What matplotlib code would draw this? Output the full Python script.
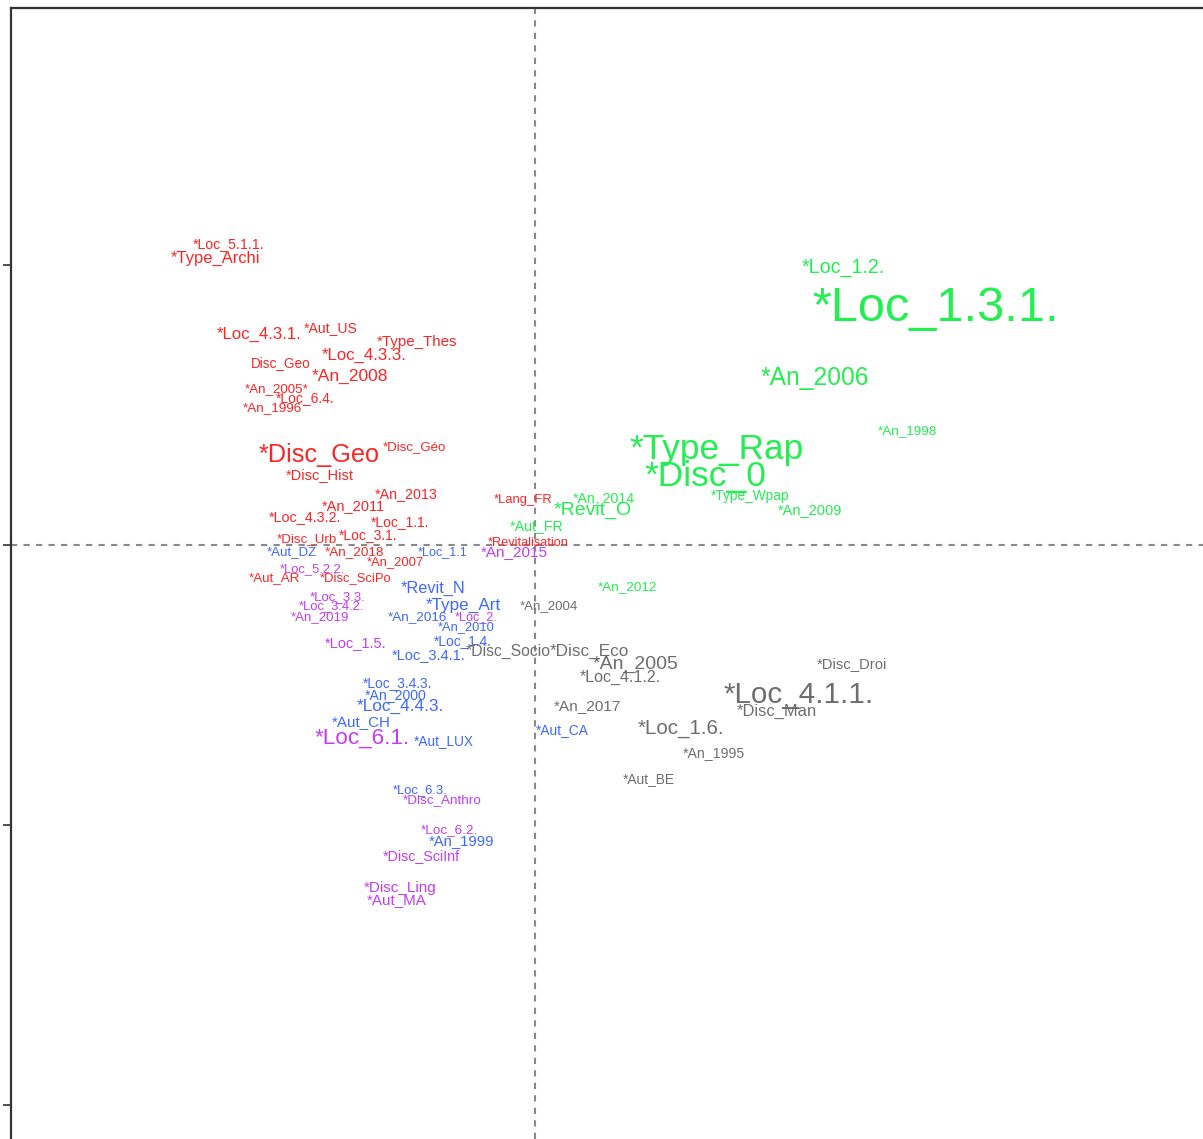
import matplotlib
matplotlib.use("Agg")
import matplotlib.pyplot as plt

plt.rcParams["font.family"] = ["Liberation Sans", "DejaVu Sans"]

# cluster 1 (red)
red_labels = ["*Loc_5.1.1.", "*Type_Archi", "*Loc_4.3.1.", "*Aut_US", "*Type_Thes", "*Loc_4.3.3.",
              "Disc_Geo", "*An_2008", "*An_2005*", "*Loc_6.4.", "*An_1996", "*Disc_Geo",
              "*Disc_Géo", "*Disc_Hist", "*An_2013", "*An_2011", "*Loc_4.3.2.", "*Loc_1.1.",
              "*Loc_3.1.", "*Disc_Urb", "*An_2018", "*An_2007", "*Aut_AR", "*Disc_SciPo",
              "*Lang_FR", "*Revitalisation"]
red_x = [-1.093, -1.139, -0.986, -0.729, -0.421, -0.611, -0.907, -0.661, -0.921, -0.821, -0.936, -0.771,
         -0.429, -0.768, -0.461, -0.650, -0.821, -0.482, -0.596, -0.814, -0.643, -0.500, -0.929, -0.639,
         -0.043, -0.025]
red_y = [1.079, 1.029, 0.757, 0.782, 0.729, 0.682, 0.654, 0.607, 0.564, 0.532, 0.496, 0.329,
         0.354, 0.257, 0.186, 0.146, 0.104, 0.086, 0.043, 0.025, -0.018, -0.054, -0.111, -0.111,
         0.168, 0.014]
red_size = [10.2, 11.9, 12.1, 10.1, 10.9, 12.1, 9.8, 12.5, 9.6, 10.0, 9.7, 18.2,
            9.5, 10.5, 10.3, 10.5, 10.4, 10.0, 10.0, 9.6, 9.7, 9.4, 9.6, 9.4,
            9.4, 9.2]

# cluster 2 (green)
green_labels = ["*Loc_1.2.", "*Loc_1.3.1.", "*An_2006", "*An_1998", "*Type_Rap", "*Disc_0",
                "*Type_Wpap", "*An_2009", "*An_2014", "*Revit_O", "*Aut_FR", "*An_2012"]
green_x = [1.100, 1.432, 1.000, 1.332, 0.650, 0.607, 0.768, 0.982, 0.246, 0.207, 0.007, 0.329]
green_y = [1.000, 0.864, 0.604, 0.411, 0.354, 0.257, 0.182, 0.132, 0.175, 0.132, 0.075, -0.143]
green_size = [14.2, 35.0, 17.7, 9.7, 25.3, 25.5, 9.8, 10.5, 10.2, 14.0, 10.3, 9.7]

# cluster 3 (blue)
blue_labels = ["*Aut_DZ", "*Loc_1.1", "*Revit_N", "*Type_Art", "*An_2016", "*An_2010", "*Loc_1.4.",
               "*Loc_3.4.1.", "*Loc_3.4.3.", "*An_2000", "*Loc_4.4.3.", "*Aut_CH", "*Aut_LUX",
               "*Aut_CA", "*Loc_6.3.", "*An_1999"]
blue_x = [-0.868, -0.329, -0.364, -0.254, -0.418, -0.246, -0.257, -0.379, -0.489, -0.496, -0.482,
          -0.621, -0.325, 0.096, -0.411, -0.261]
blue_y = [-0.018, -0.018, -0.150, -0.211, -0.250, -0.286, -0.339, -0.386, -0.486, -0.529, -0.571,
          -0.625, -0.696, -0.654, -0.868, -1.050]
blue_size = [9.5, 9.1, 11.7, 12.3, 9.7, 9.3, 9.9, 10.5, 9.9, 10.2, 12.4, 10.9, 9.8, 9.9, 9.4, 10.7]

# cluster 4 (purple)
purple_labels = ["*An_2015", "*Loc_5.2.2.", "*Loc_3.3.", "*Loc_3.4.2.", "*An_2019", "*Loc_2.",
                 "*Loc_1.5.", "*Loc_6.1.", "*Disc_Anthro", "*Loc_6.2.", "*Disc_SciInf",
                 "*Disc_Ling", "*Aut_MA"]
purple_x = [-0.075, -0.796, -0.704, -0.725, -0.768, -0.211, -0.639, -0.618, -0.332, -0.304,
            -0.407, -0.482, -0.493]
purple_y = [-0.021, -0.079, -0.179, -0.211, -0.250, -0.250, -0.343, -0.679, -0.904, -1.014,
            -1.104, -1.218, -1.261]
purple_size = [11.0, 9.4, 9.5, 9.4, 9.5, 9.1, 10.5, 16.2, 9.7, 9.7, 10.3, 11.0, 10.9]

# cluster 5 (grey)
grey_labels = ["*An_2004", "*Disc_Socio", "*Disc_Eco", "*An_2005", "*Loc_4.1.2.", "*Disc_Droi",
               "*Loc_4.1.1.", "*Disc_Man", "*An_2017", "*Loc_1.6.", "*An_1995", "*Aut_BE"]
grey_x = [0.050, -0.096, 0.196, 0.361, 0.304, 1.132, 0.943, 0.864, 0.189, 0.521, 0.639, 0.407]
grey_y = [-0.211, -0.375, -0.375, -0.418, -0.468, -0.421, -0.525, -0.589, -0.568, -0.646,
          -0.736, -0.829]
grey_size = [9.5, 11.3, 12.3, 14.0, 11.5, 10.7, 21.3, 11.9, 11.1, 14.8, 10.2, 9.9]

groups = [
    (red_labels, red_x, red_y, red_size, "#ff2424"),
    (green_labels, green_x, green_y, green_size, "#22ef50"),
    (blue_labels, blue_x, blue_y, blue_size, "#3d68ff"),
    (purple_labels, purple_x, purple_y, purple_size, "#c33cf5"),
    (grey_labels, grey_x, grey_y, grey_size, "#6e6e6e"),
]

fig = plt.figure(figsize=(12.03, 11.39), dpi=100)
ax = fig.add_axes([11 / 1203, 0, 1 - 11 / 1203, 1131 / 1139])
ax.set_xlim(-1.871, 2.386)
ax.set_ylim(-2.121, 1.918)

ax.axhline(0, color="#8a8a8a", lw=1.5, ls=(0, (3, 3)), zorder=1)
ax.axvline(0, color="#8a8a8a", lw=1.5, ls=(0, (3, 3)), zorder=1)

for labels, xs, ys, sizes, col in groups:
    for lab, x, y, s in zip(labels, xs, ys, sizes):
        ax.text(x, y, lab, color=col, fontsize=s, ha="center", va="center_baseline", zorder=3)

ax.spines["right"].set_visible(False)
ax.spines["bottom"].set_visible(False)
for side in ["left", "top"]:
    ax.spines[side].set_color("#333333")
    ax.spines[side].set_linewidth(1.6)
ax.set_xticks([])
ax.set_yticks([1, 0, -1, -2])
ax.set_yticklabels([])
ax.tick_params(axis="y", direction="out", length=6, width=1.2, color="#333333")

fig.savefig("out.png", dpi=100)
